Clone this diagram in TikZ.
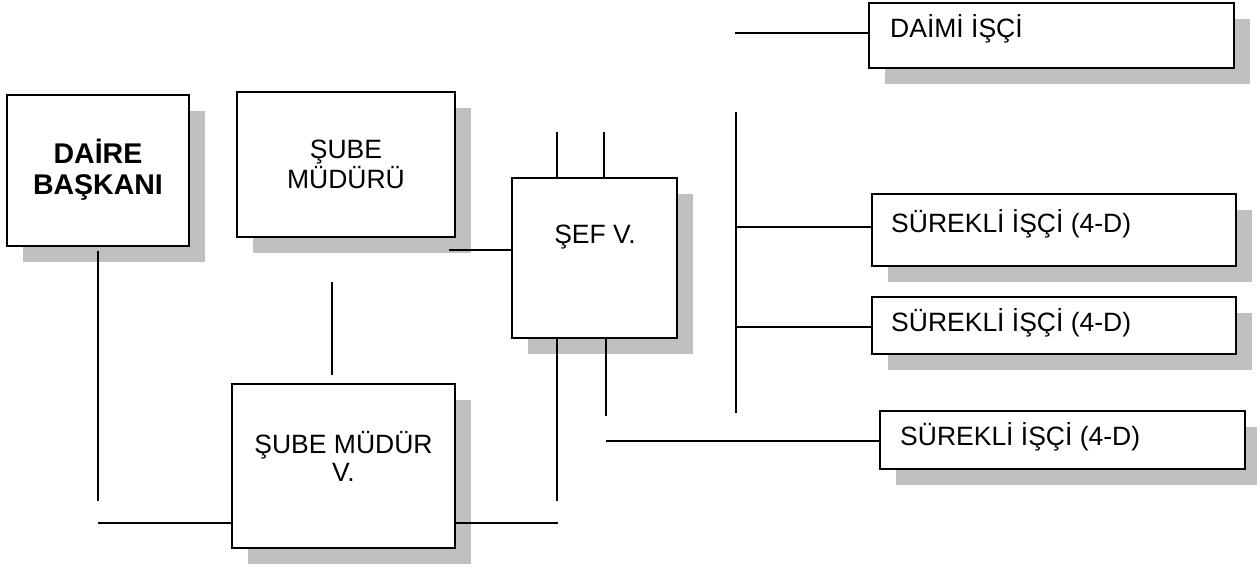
\documentclass[tikz,border=0pt]{standalone}
\usepackage{fontspec}
\setmainfont{Liberation Sans}
\usetikzlibrary{shadows}
\definecolor{shgray}{RGB}{192,192,192}
\begin{document}
\begin{tikzpicture}[x=1pt,y=-1pt,
  box/.style={draw=black, line width=2pt, fill=white, rectangle, inner sep=0pt, outer sep=0pt,
    drop shadow={shadow xshift=16pt, shadow yshift=-16pt, fill=shgray, opacity=1}},
  wire/.style={line width=1.8pt},
  txt/.style={font=\fontsize{26.5}{30}\selectfont, inner sep=0pt, align=center},
  ltxt/.style={font=\fontsize{26.5}{30}\selectfont, inner sep=0pt, anchor=base west},
]
\useasboundingbox (0,0) rectangle (1257,570);

% boxes
\node[box, minimum width=182pt, minimum height=151pt] (daire) at (98,170.5) {};
\node[box, minimum width=218pt, minimum height=145pt] (sm) at (346,164.5) {};
\node[box, minimum width=165pt, minimum height=160pt] (sef) at (594.5,258) {};
\node[box, minimum width=223pt, minimum height=164pt] (smv) at (343.5,466) {};
\node[box, minimum width=365pt, minimum height=65pt] (daimi) at (1051.5,35.5) {};
\node[box, minimum width=364pt, minimum height=72pt] (s1) at (1054,230) {};
\node[box, minimum width=364pt, minimum height=57pt] (s2) at (1054,325.5) {};
\node[box, minimum width=365pt, minimum height=58pt] (s3) at (1062.5,440) {};

% texts (anchor=base is the baseline of the last line)
\node[inner sep=0pt, align=center, anchor=base, font=\fontsize{28.5}{31}\selectfont\bfseries] (tdaire) at (98,194.5) {DAİRE\\BAŞKANI};
\node[txt, anchor=base] (tsm) at (346,188.5) {ŞUBE\\MÜDÜRÜ};
\node[txt, anchor=base] (tsef) at (595,243.5) {ŞEF V.};
\node[txt, anchor=base, font=\fontsize{26.5}{28.4}\selectfont] (tsmv) at (343.5,481.7) {ŞUBE MÜDÜR\\V.};
\node[ltxt] (tdaimi) at (890,37) {DAİMİ İŞÇİ};
\node[ltxt] (ts1) at (891,232) {SÜREKLİ İŞÇİ (4-D)};
\node[ltxt] (ts2) at (891,331.5) {SÜREKLİ İŞÇİ (4-D)};
\node[ltxt] (ts3) at (900,445) {SÜREKLİ İŞÇİ (4-D)};

% free ends
\coordinate (dA) at (98,251);
\coordinate (dB) at (98,501);
\coordinate (hL) at (98,523);
\coordinate (hR) at (558,523);
\coordinate (sefBL) at (557,501);
\coordinate (sefBR) at (606,416);
\coordinate (tL) at (557,132);
\coordinate (tR) at (604,132);
\coordinate (mL) at (449,250);
\coordinate (vA) at (332,282);
\coordinate (vB) at (332,375);
\coordinate (s3L) at (606,441);
\coordinate (dL) at (735,33);
\coordinate (busT) at (736,112);
\coordinate (busB) at (736,413);
\coordinate (b1) at (736,227);
\coordinate (b2) at (736,327);

% connectors
\draw[wire] (dA) -- (dB);
\draw[wire] (hL) -- (hL -| smv.west);
\draw[wire] (smv.east |- hR) -- (hR);
\draw[wire] (sefBL |- sef.south) -- (sefBL);
\draw[wire] (sefBR |- sef.south) -- (sefBR);
\draw[wire] (tL) -- (tL |- sef.north);
\draw[wire] (tR) -- (tR |- sef.north);
\draw[wire] (mL) -- (mL -| sef.west);
\draw[wire] (vA) -- (vB);
\draw[wire] (s3L) -- (s3L -| s3.west);
\draw[wire] (dL) -- (dL -| daimi.west);
\draw[wire] (busT) -- (busB);
\draw[wire] (b1) -- (b1 -| s1.west);
\draw[wire] (b2) -- (b2 -| s2.west);
\end{tikzpicture}
\end{document}
